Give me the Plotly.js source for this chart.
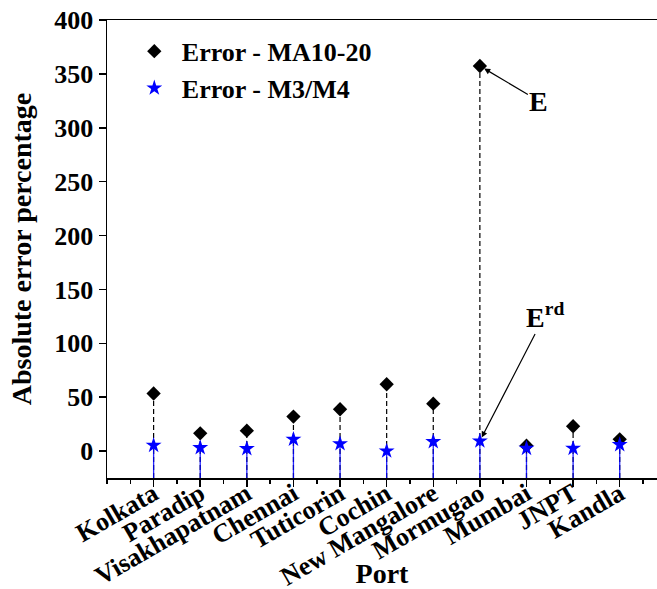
<!DOCTYPE html>
<html>
<head>
<meta charset="utf-8">
<script src="https://cdn.plot.ly/plotly-3.0.1.min.js"></script>
<style>html,body{margin:0;padding:0;background:#fff}#chart{width:657px;height:589px}</style>
</head>
<body>
<div id="chart"></div>
<script>
const ports = ["Kolkata","Paradip","Visakhapatnam","Chennai","Tuticorin","Cochin","New Mangalore","Mormugao","Mumbai","JNPT","Kandla"];
const errMA = [53.4, 16.5, 18.9, 32, 38.8, 62, 44, 357.3, 5, 23, 10.9];
const errM3M4 = [5.3, 3.1, 2.2, 10.9, 6.8, 0, 8.7, 9.3, 2.5, 2.5, 5.9];
const yTicks = [0, 50, 100, 150, 200, 250, 300, 350, 400];
const yBottom = -25;

const xPos = ports.map((p, i) => i + 1);
const FONT = '"Liberation Serif", "Times New Roman", serif';

function dropLines(vals) {
  const xs = [], ys = [];
  vals.forEach((v, i) => { xs.push(xPos[i], xPos[i], null); ys.push(yBottom, v, null); });
  return {x: xs, y: ys};
}
const dMA = dropLines(errMA);
const dM = dropLines(errM3M4);

const traces = [
  {x: dMA.x, y: dMA.y, mode: 'lines', line: {color: '#000', width: 1.2, dash: '5px,3px'}, showlegend: false, hoverinfo: 'skip'},
  {x: dM.x, y: dM.y, mode: 'lines', line: {color: '#0000ff', width: 1.3}, opacity: 0.85, showlegend: false, hoverinfo: 'skip'},
  {x: xPos, y: errMA, mode: 'markers', name: 'Error - MA10-20', marker: {symbol: 'diamond', size: 11, color: '#000'}},
  {x: xPos, y: errM3M4, mode: 'markers', name: 'Error - M3/M4', marker: {symbol: 'star', size: 12, color: '#0000ff'}}
];

const layout = {
  width: 657, height: 589,
  margin: {l: 107, r: 0, t: 20, b: 111},
  paper_bgcolor: '#fff', plot_bgcolor: '#fff',
  font: {family: FONT, color: '#000', size: 26, weight: 700},
  showlegend: true,
  legend: {x: 0.036, y: 0.983, xanchor: 'left', yanchor: 'top', bgcolor: 'rgba(0,0,0,0)',
           font: {family: FONT, size: 26, weight: 700, color: '#000'}, itemwidth: 45, tracegroupgap: 0},
  xaxis: {
    range: [0, 11.8], tickmode: 'array', tickvals: xPos, ticktext: ports, tickangle: -30,
    ticks: 'outside', ticklen: 7, tickwidth: 1.5, tickcolor: '#000', ticklabelstandoff: -18,
    minor: {dtick: 0.5, tick0: 0, ticks: 'outside', ticklen: 4, tickwidth: 1.5, tickcolor: '#000'},
    showline: true, linecolor: '#000', linewidth: 1.5, mirror: true, showgrid: false, zeroline: false,
    tickfont: {family: FONT, size: 26, weight: 700, color: '#000'},
    title: {text: 'Port', font: {family: FONT, size: 28, weight: 700, color: '#000'}, standoff: 0}
  },
  yaxis: {
    range: [yBottom, 400], tickmode: 'array', tickvals: yTicks,
    ticks: 'outside', ticklen: 7, tickwidth: 1.5, tickcolor: '#000',
    showline: true, linecolor: '#000', linewidth: 1.5, showgrid: false, zeroline: false,
    tickfont: {family: FONT, size: 26, weight: 700, color: '#000'},
    title: {text: 'Absolute error percentage', font: {family: FONT, size: 28, weight: 700, color: '#000'}, standoff: 14}
  },
  annotations: [
    {x: xPos[7], y: errMA[7], xref: 'x', yref: 'y', text: 'E', showarrow: true, arrowhead: 2, arrowsize: 1, arrowwidth: 1.2,
     arrowcolor: '#000', ax: 59, ay: 35, standoff: 5, font: {family: FONT, size: 28, weight: 700, color: '#000'}},
    {x: xPos[7], y: errM3M4[7], xref: 'x', yref: 'y', text: 'E<sup>rd</sup>', showarrow: true, arrowhead: 2, arrowsize: 1, arrowwidth: 1.2,
     arrowcolor: '#000', ax: 65, ay: -126, standoff: 4, font: {family: FONT, size: 28, weight: 700, color: '#000'}}
  ]
};

Plotly.newPlot('chart', traces, layout, {displayModeBar: false, staticPlot: true});
</script>
</body>
</html>
